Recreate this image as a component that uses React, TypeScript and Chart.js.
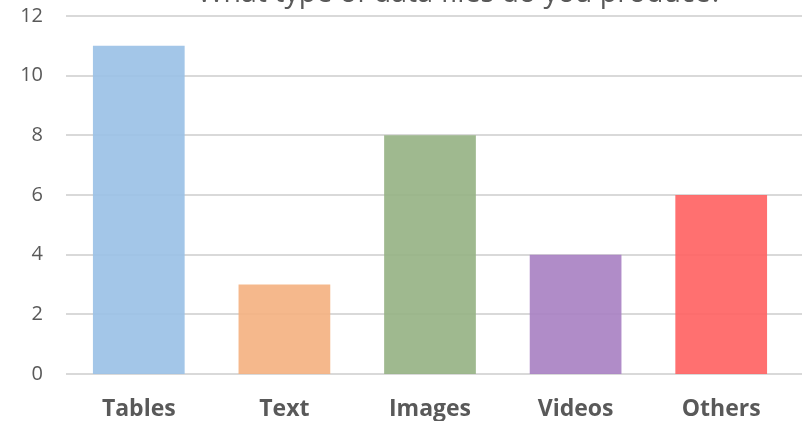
import React, { useEffect, useRef } from "react";
import { Chart, registerables } from "chart.js";

Chart.register(...registerables);

const TITLE = "What type of data files do you produce?";
const categories = ["Tables", "Text", "Images", "Videos", "Others"];
const counts = [11, 3, 8, 4, 6];
const barColors = [
  "rgba(153,192,229,0.9)",
  "rgba(244,176,127,0.9)",
  "rgba(149,177,131,0.9)",
  "rgba(167,127,194,0.9)",
  "rgba(255,96,96,0.9)",
];
const yTicks = [0, 2, 4, 6, 8, 10, 12];

const titlePlugin = {
  id: "clippedTitle",
  afterDraw(chart: any) {
    const ctx = chart.ctx;
    ctx.save();
    ctx.font = "28.5px 'Open Sans'";
    ctx.fillStyle = "#595959";
    ctx.textAlign = "center";
    ctx.textBaseline = "alphabetic";
    ctx.fillText(TITLE, 460, 2);
    ctx.restore();
  },
};

const gridPlugin = {
  id: "fullGrid",
  beforeDatasetsDraw(chart: any) {
    const ctx = chart.ctx;
    const y = chart.scales.y;
    ctx.save();
    ctx.strokeStyle = "#d9d9d9";
    ctx.lineWidth = 2;
    yTicks.forEach((v) => {
      const py = Math.round(y.getPixelForValue(v));
      ctx.beginPath();
      ctx.moveTo(chart.chartArea.left, py);
      ctx.lineTo(chart.width, py);
      ctx.stroke();
    });
    ctx.restore();
  },
};

export default function App() {
  const ref = useRef<HTMLCanvasElement | null>(null);
  useEffect(() => {
    if (!ref.current) return;
    const chart = new Chart(ref.current, {
      type: "bar",
      data: {
        labels: categories,
        datasets: [
          {
            data: counts,
            backgroundColor: barColors,
            borderWidth: 0,
            barPercentage: 0.63,
            categoryPercentage: 1,
          },
        ],
      },
      options: {
        animation: false,
        responsive: false,
        maintainAspectRatio: false,
        layout: { padding: { top: 16, right: 8, left: 0, bottom: 0 } },
        plugins: { legend: { display: false }, tooltip: { enabled: false } },
        scales: {
          x: {
            grid: { display: false, drawTicks: false },
            border: { display: false },
            ticks: {
              color: "#595959",
              font: { family: "'Open Sans'", size: 23, weight: "bold" },
              padding: 22,
              maxRotation: 0,
            },
            afterFit(scale: any) {
              scale.height = 47;
            },
          },
          y: {
            min: 0,
            max: 12,
            afterBuildTicks(scale: any) {
              scale.ticks = yTicks.map((v) => ({ value: v }));
            },
            grid: { display: false, drawTicks: false },
            border: { display: false },
            ticks: {
              color: "#595959",
              font: { family: "'Open Sans'", size: 20 },
              padding: 23,
            },
            afterFit(scale: any) {
              scale.width = 66;
              scale.paddingTop = 0;
              scale.paddingBottom = 0;
            },
          },
        },
      },
      plugins: [gridPlugin, titlePlugin],
    });
    return () => chart.destroy();
  }, []);
  return (
    <div style={{ position: "absolute", left: 0, top: 0, width: 802, height: 421 }}>
      <canvas ref={ref} width={802} height={421} style={{ display: "block" }} />
    </div>
  );
}
